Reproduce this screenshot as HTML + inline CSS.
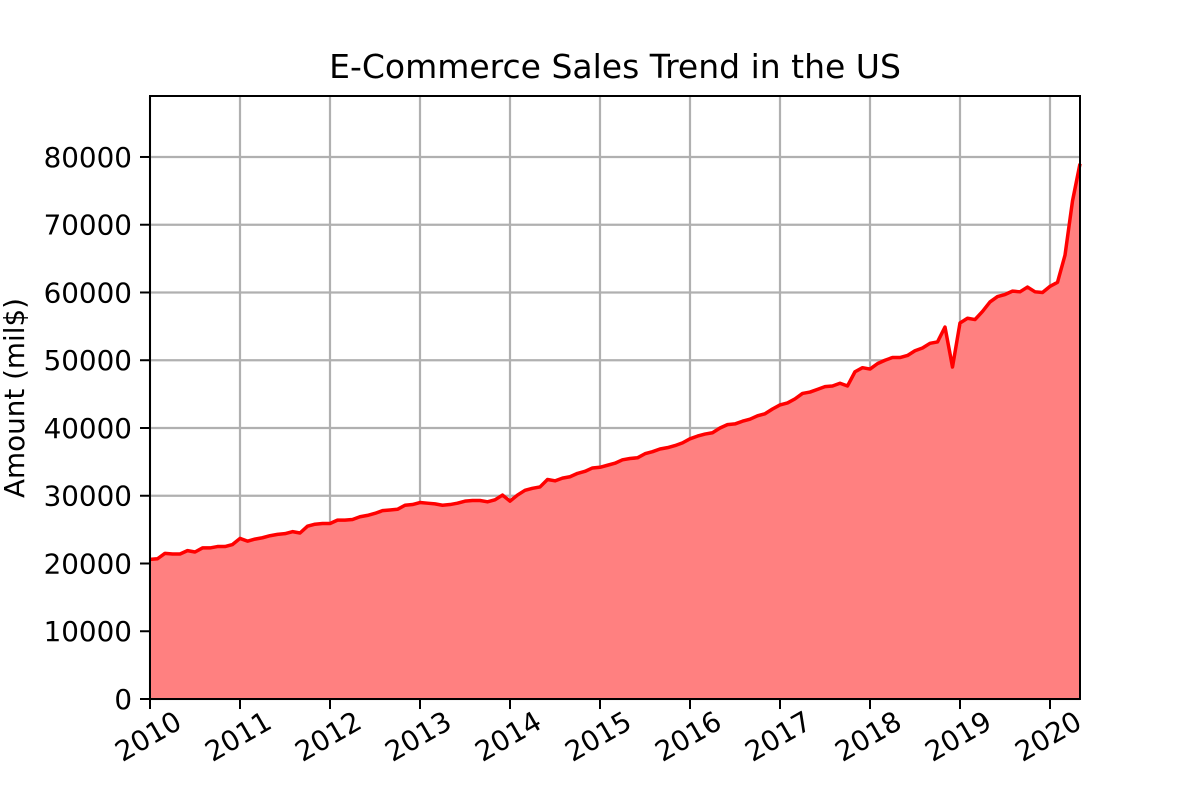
<!DOCTYPE html>
<html><head><meta charset="utf-8"><style>
body{margin:0;background:#fff}
svg{display:block;font-family:"DejaVu Sans","Liberation Sans",sans-serif}
</style></head><body>
<svg id="chart" width="1200" height="800">
<text x="615" y="78" font-size="33" text-anchor="middle">E-Commerce Sales Trend in the US</text>
<text transform="translate(24,398) rotate(-90)" font-size="27.8" text-anchor="middle">Amount (mil$)</text>
<g id="grid"></g><g id="marks"></g><g id="axes"></g>
</svg>
<script>
const startYear = 2010;
const sales = [
20600,20700,21500,21400,21400,21900,21700,22300,22300,22500,22500,22800,
23700,23300,23600,23800,24100,24300,24400,24700,24500,25500,25800,25900,
25900,26400,26400,26500,26900,27100,27400,27800,27900,28000,28600,28700,
29000,28900,28800,28600,28700,28900,29200,29300,29300,29100,29400,30100,
29200,30100,30800,31100,31300,32400,32200,32600,32800,33300,33600,34100,
34200,34500,34800,35300,35500,35600,36200,36500,36900,37100,37400,37800,
38400,38800,39100,39300,40000,40500,40600,41000,41300,41800,42100,42800,
43400,43700,44300,45100,45300,45700,46100,46200,46600,46200,48300,48900,
48700,49500,50000,50400,50400,50700,51400,51800,52500,52700,54900,49000,
55500,56200,56000,57200,58600,59400,59700,60200,60100,60800,60100,60000,
60900,61500,65500,73500,79000];
const xTicks = [2010,2011,2012,2013,2014,2015,2016,2017,2018,2019,2020];
const yTicks = [0,10000,20000,30000,40000,50000,60000,70000,80000];
const L=150,R=1080,T=96,B=699,yMax=89000;
const ns="http://www.w3.org/2000/svg";
const n=sales.length;
function xs(t){return L+(t-startYear)/((n-1)/12)*(R-L);}
function ys(v){return B-v/yMax*(B-T);}
function mk(tag,attrs,parent){const e=document.createElementNS(ns,tag);for(const k in attrs)e.setAttribute(k,attrs[k]);parent.appendChild(e);return e;}
const grid=document.getElementById('grid'),marks=document.getElementById('marks'),axes=document.getElementById('axes');
xTicks.forEach(t=>{const x=xs(t);
 const g=mk('line',{x1:x,x2:x,y1:T,y2:B,stroke:'#b0b0b0','stroke-width':2.2},grid);
 
 
 mk('line',{x1:x,x2:x,y1:B,y2:B+10,stroke:'#000','stroke-width':2},axes);
 const cy=B+37;
 const tx=mk('text',{x:x-2,y:cy+10,'font-size':27.8,'text-anchor':'middle',transform:`rotate(-30 ${x-2} ${cy})`},axes);
 tx.textContent=t;
 
 
});
yTicks.forEach(v=>{const y=ys(v);
 const g=mk('line',{x1:L,x2:R,y1:y,y2:y,stroke:'#b0b0b0','stroke-width':2.2},grid);
 
 
 mk('line',{x1:L-10,x2:L,y1:y,y2:y,stroke:'#000','stroke-width':2},axes);
 const tx=mk('text',{x:L-18,y:y+10,'font-size':27.8,'text-anchor':'end'},axes);
 tx.textContent=v;
 
 
});
let pts=sales.map((v,i)=>[xs(startYear+i/12),ys(v)]);
let line=pts.map(p=>p[0].toFixed(2)+','+p[1].toFixed(2)).join(' ');
const area=mk('polygon',{points:`${L},${B} `+line+` ${R},${B}`,fill:'#ff8080'},marks);


const pl=mk('polyline',{points:line,fill:'none',stroke:'#ff0000','stroke-width':3.5,'stroke-linejoin':'round'},marks);


const frame=mk('rect',{x:L,y:T,width:R-L,height:B-T,fill:'none',stroke:'#000','stroke-width':2},axes);


</script>
</body></html>
